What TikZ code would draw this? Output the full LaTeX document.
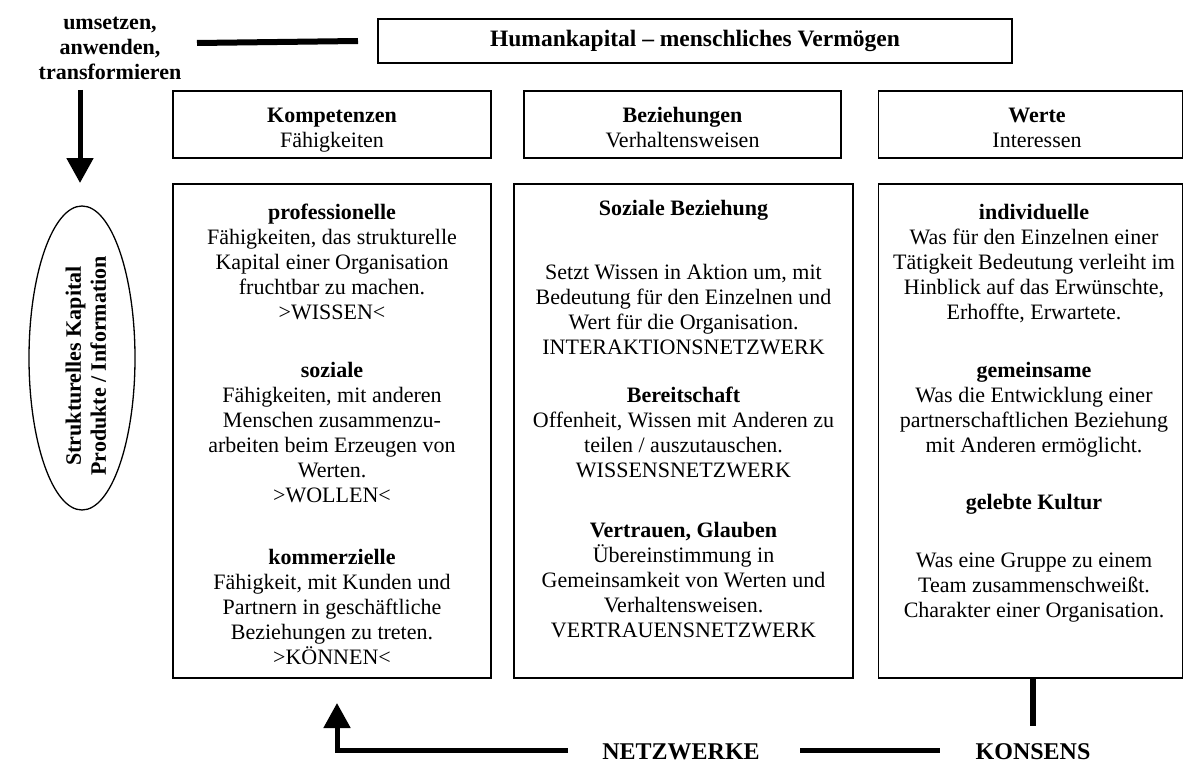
\documentclass[tikz,border=0pt]{standalone}
\usepackage{fontspec}
\setmainfont{Liberation Serif}
\usetikzlibrary{arrows.meta,shapes.geometric}
\newcommand\fsz{\fontsize{22}{25}\selectfont}
\newcommand\fsb{\fontsize{24}{28}\selectfont}
\newcommand\fst{\rule{0pt}{20pt}}
\begin{document}
\begin{tikzpicture}[x=1pt,y=-1pt,
  box/.style={draw,line width=1.3pt,inner sep=0pt},
  txt/.style={anchor=north,align=center,inner sep=0pt,font=\fsz},
  boldline/.style={line width=6pt},
  arr/.style={line width=5pt,-{Triangle[width=26pt,length=25pt]}}]
\useasboundingbox (0,0) rectangle (1185,765);
\clip (0,0) rectangle (1185,765);

% title and left label
\node[box,minimum width=634,minimum height=44,font=\fontsize{23.5}{27}\selectfont\bfseries] (title) at (695,41) {Humankapital – menschliches Vermögen};
\node[txt,font=\fsz\bfseries] (lbl) at (110,9) {\fst umsetzen,\\anwenden,\\transformieren};
\coordinate (tl1) at (197,43);
\draw[boldline] (tl1) -- (title.west -| 358,0);

% down arrow and ellipse
\node[draw,ellipse,line width=1.3pt,minimum width=106,minimum height=304,inner sep=0pt] (ell) at (82,358) {};
\node[rotate=90,align=center,font=\fsz\bfseries,inner sep=0pt] (elltxt) at (86,366) {Strukturelles Kapital\\Produkte / Information};
\coordinate (da1) at (80,90);
\coordinate (da2) at (80,183);
\draw[arr] (da1) -- (da2);

% header boxes
\node[box,minimum width=318,minimum height=67] (h1) at (332,124.5) {};
\node[box,minimum width=317,minimum height=67] (h2) at (682.5,124.5) {};
\node[box,minimum width=304,minimum height=67] (h3) at (1030.5,124.5) {};
\node[txt] (h1t) at (332,102) {\fst\textbf{Kompetenzen}\\Fähigkeiten};
\node[txt] (h2t) at (682.5,102) {\fst\textbf{Beziehungen}\\Verhaltensweisen};
\node[txt] (h3t) at (1037,102) {\fst\textbf{Werte}\\Interessen};

% content boxes
\node[box,minimum width=318,minimum height=494] (c1) at (332,431) {};
\node[box,minimum width=339,minimum height=494] (c2) at (683.5,431) {};
\node[box,minimum width=304,minimum height=494] (c3) at (1030.5,431) {};

% left column texts
\node[txt] (s1) at (332,199) {\fst\textbf{professionelle}\\Fähigkeiten, das strukturelle\\Kapital einer Organisation\\fruchtbar zu machen.\\>WISSEN<};
\node[txt] (s2) at (332,357) {\fst\textbf{soziale}\\Fähigkeiten, mit anderen\\Menschen zusammenzu-\\arbeiten beim Erzeugen von\\Werten.\\>WOLLEN<};
\node[txt] (s3) at (332,544) {\fst\textbf{kommerzielle}\\Fähigkeit, mit Kunden und\\Partnern in geschäftliche\\Beziehungen zu treten.\\>KÖNNEN<};

% middle column texts
\node[txt] (m1) at (683.5,195) {\fst\textbf{Soziale Beziehung}};
\node[txt] (m2) at (683.5,259) {\fst Setzt Wissen in Aktion um, mit\\Bedeutung für den Einzelnen und\\Wert für die Organisation.\\INTERAKTIONSNETZWERK};
\node[txt] (m3) at (683.5,382) {\fst\textbf{Bereitschaft}\\Offenheit, Wissen mit Anderen zu\\teilen / auszutauschen.\\WISSENSNETZWERK};
\node[txt] (m4) at (683.5,517) {\fst\textbf{Vertrauen, Glauben}\\Übereinstimmung in\\Gemeinsamkeit von Werten und\\Verhaltensweisen.\\VERTRAUENSNETZWERK};

% right column texts
\node[txt] (r1) at (1034,199) {\fst\textbf{individuelle}\\Was für den Einzelnen einer\\Tätigkeit Bedeutung verleiht im\\Hinblick auf das Erwünschte,\\Erhoffte, Erwartete.};
\node[txt] (r2) at (1034,357) {\fst\textbf{gemeinsame}\\Was die Entwicklung einer\\partnerschaftlichen Beziehung\\mit Anderen ermöglicht.};
\node[txt] (r3) at (1034,489) {\fst\textbf{gelebte Kultur}};
\node[txt] (r4) at (1034,547) {\fst Was eine Gruppe zu einem\\Team zusammenschweißt.\\Charakter einer Organisation.};

% bottom
\node[anchor=base,font=\fsb\bfseries,inner sep=0pt] (netz) at (681,759) {NETZWERKE};
\node[anchor=base,font=\fsb\bfseries,inner sep=0pt] (kons) at (1033,759) {KONSENS};
\coordinate (b1) at (568,750);
\coordinate (b2) at (337,750);
\coordinate (b3) at (337,703);
\draw[arr] (b1) -- (b2) -- (b3);
\coordinate (n1) at (800,750);
\coordinate (n2) at (940,750);
\draw[boldline,line width=5pt] (n1) -- (n2);
\coordinate (k1) at (1033,678);
\coordinate (k2) at (1033,726);
\draw[boldline] (k1) -- (k2);
\end{tikzpicture}
\end{document}
